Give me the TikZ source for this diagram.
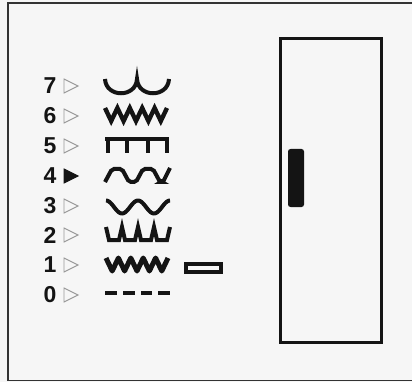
\documentclass[tikz,border=0pt]{standalone}
\usepackage{fontspec}
\setmainfont{Liberation Sans}
\definecolor{bg}{RGB}{246,246,246}
\definecolor{ink}{RGB}{20,20,20}
\begin{document}
\begin{tikzpicture}[x=1pt,y=-1pt,
  wave/.style={draw=ink,line width=4pt,line join=miter},
  digit/.style={text=ink,font=\fontsize{23}{25}\selectfont\bfseries,inner sep=0pt,anchor=center},
  tri/.style={draw=black!40,line width=0.9pt,line join=miter},
  trion/.style={draw=ink,fill=ink,line width=0.9pt,line join=miter}]
\useasboundingbox[fill=bg] (0,0) rectangle (412,382);
% outer frame
\draw[line width=1.8pt,black!80] (8,3) rectangle (415,380.5);
% door
\draw[line width=3pt,ink] (280,39) rectangle (381,342);
\fill[ink,rounded corners=2.5pt] (288,149) rectangle (304,207);
% digits
\foreach \d/\y in {7/86,6/116,5/146,4/176,3/206,2/235,1/265,0/295}{
  \node[digit] (d\d) at (50,\y) {\d};
}
% triangles
\foreach \d/\y in {7/86,6/116,5/146,3/206,2/235,1/265,0/295}{
  \draw[tri] (64,\y-7) -- (64,\y+7) -- (78,\y) -- cycle;
}
\draw[trion] (64,176-7) -- (64,176+7) -- (78,176) -- cycle;
% row 7: double arc
\draw[wave] (105,79) .. controls (106,98) and (136,98) .. (137,79)
  .. controls (138,98) and (168,98) .. (169,79);
% row 6: sawtooth V's
\draw[wave,line width=4.4pt] (105,108) -- (111.2,121) -- (117.4,108) -- (123.6,121) -- (129.8,108)
  -- (136,121) -- (142.2,108) -- (148.4,121) -- (154.6,108) -- (160.8,121) -- (167,108);
% row 5: pulse
\draw[wave] (105,139.5) -- (169,139.5);
\foreach \x in {108,127,148,167}{ \draw[wave] (\x,139.5) -- (\x,153); }
% row 4: trapezoid
\draw[wave,rounded corners=2pt] (105,182) -- (112,169) -- (122,169) -- (129,182) -- (136,182)
  -- (143,169) -- (153,169) -- (160,182) -- (163,182) -- (170,168);
% row 3: sine
\draw[wave] plot[domain=0:64,samples=80,smooth] ({106+\x},{207-6.5*cos(\x*11.25)});
% row 2: flat-bottom dips
\draw[wave] (106,227) -- (109,240) -- (119,240) -- (122,227) -- (125,240) -- (135,240) -- (138,227)
  -- (141,240) -- (151,240) -- (154,227) -- (157,240) -- (167,240) -- (170,227);
% row 1: zigzag
\draw[wave,line width=5pt,line join=round] (106,258) -- (112.2,271) -- (118.4,258) -- (124.6,271) -- (130.8,258)
  -- (137,271) -- (143.2,258) -- (149.4,271) -- (155.6,258) -- (161.8,271) -- (168,258);
\draw[ink,line width=3.8pt,fill=bg] (186,264) rectangle (221,272);
% row 0: dashes
\foreach \a/\b in {105/117,123/135,141/152,158/170}{ \draw[wave] (\a,293) -- (\b,293); }
\end{tikzpicture}
\end{document}
